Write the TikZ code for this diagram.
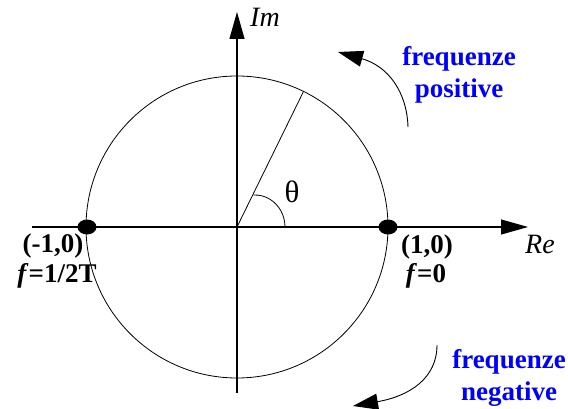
\documentclass[tikz,border=0pt]{standalone}
\usepackage{fontspec}
\setmainfont{Liberation Serif}
\usetikzlibrary{arrows.meta,shapes.geometric}
\definecolor{fblue}{RGB}{0,0,255}
\begin{document}
\begin{tikzpicture}[x=1pt,y=-1pt,
  lbl/.style={font=\fontsize{27}{32}\selectfont\bfseries, inner sep=0pt, anchor=base},
  ital/.style={font=\fontsize{28}{32}\selectfont\itshape, inner sep=0pt, anchor=base},
  blu/.style={font=\fontsize{27}{32}\selectfont\bfseries, text=fblue, align=center, inner sep=0pt, anchor=base},
  axis/.style={line width=1.1pt, -{Triangle[length=27pt,width=15pt]}},
  turn/.style={line width=0.9pt, -{Triangle[length=25pt,width=16pt]}},
  dot/.style={ellipse, fill=black, minimum width=19pt, minimum height=15pt, inner sep=0pt},
  thin/.style={line width=0.8pt}]
\useasboundingbox (0,0) rectangle (568,409);
% axes
\coordinate (O) at (237,227);
\coordinate (xs) at (32,227);
\coordinate (xe) at (528,227);
\coordinate (ys) at (237,393);
\coordinate (ye) at (237,12);
\draw[thin] (O) circle[radius=151];
\draw[axis] (xs) -- (xe);
\draw[axis] (ys) -- (ye);
% radius and angle
\coordinate (P) at (303.5,91.5);
\draw[thin] (O) -- (P);
\draw[thin] (285,227) arc[start angle=0,end angle=-93,x radius=30,y radius=32];
\node[font=\fontsize{31}{32}\selectfont, inner sep=0pt] (th) at (292,192) {θ};
% dots
\node[dot] (m1) at (87,227) {};
\node[dot] (p1) at (388,227) {};
% labels
\node[lbl] (lm1) at (53,252) {(-1,0)};
\node[lbl] (lfm) at (57,282) {\textit{f}=1/2T};
\node[lbl] (lp1) at (427,253) {(1,0)};
\node[lbl] (lf0) at (426,282) {\textit{f}=0};
\node[ital] (re) at (540,253) {Re};
\node[ital] (im) at (265,27) {Im};
% rotation arrows
\coordinate (a1) at (408,127);
\coordinate (a2) at (338,52);
\draw[turn] (a1) .. controls (407,92) and (388,66) .. (a2);
\coordinate (b1) at (437,345);
\coordinate (b2) at (353,406);
\draw[turn] (b1) .. controls (437,378) and (410,396) .. (b2);
\node[blu] (pos) at (459,98) {frequenze\\positive};
\node[blu] (neg) at (509,400) {frequenze\\negative};
\end{tikzpicture}
\end{document}
